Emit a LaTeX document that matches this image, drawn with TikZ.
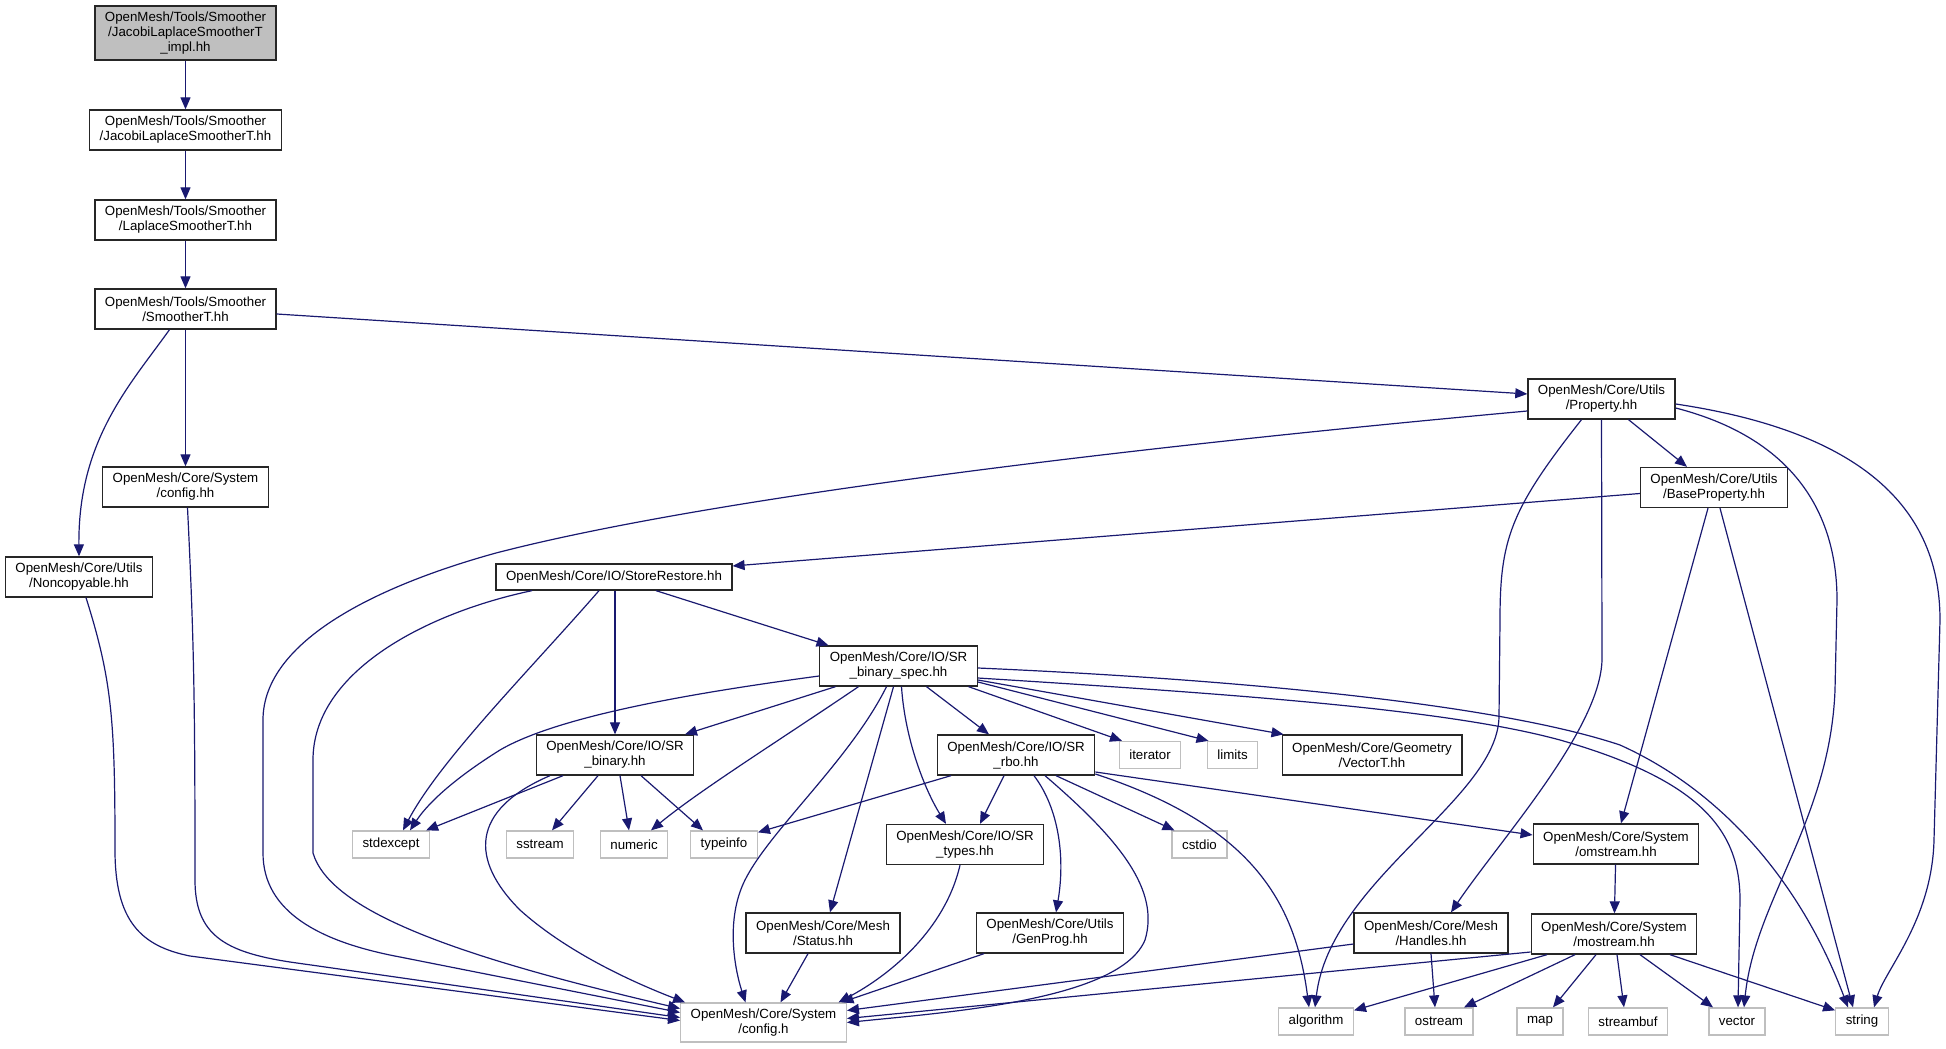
\documentclass[tikz,border=0pt]{standalone}
\usepackage{fontspec}
\setmainfont{Liberation Sans}
\usetikzlibrary{arrows.meta}
\definecolor{edgeblue}{HTML}{191970}
\definecolor{boxgray}{HTML}{BFBFBF}
\tikzset{%
  every header/.style={
    rectangle,
    draw=black!85,
    line width=1.3pt,
    align=center,
    inner xsep=10pt,
    inner ysep=0pt,
    minimum height=40pt,
    font=\fontsize{13.3}{15}\selectfont
  },
  header system/.style={
    every header,
    draw=boxgray,
    minimum height=27pt
  },
  header root/.style={
    every header,
    fill=boxgray,
    minimum height=54pt
  },
  include/.style={draw=edgeblue, line width=1.2pt, ->},
}

\begin{document}
\begin{tikzpicture}[> = {Triangle[length=12pt,width=10pt]}, x=1pt, y=-1pt]
\useasboundingbox (0,0) rectangle (1946,1049);

% project headers
\node[header root] (impl) at (185.5,33) {OpenMesh/Tools/Smoother\\/JacobiLaplaceSmootherT\\\_impl.hh};
\node[every header] (jacobi) at (185.5,130) {OpenMesh/Tools/Smoother\\/JacobiLaplaceSmootherT.hh};
\node[every header] (laplace) at (185.5,220) {OpenMesh/Tools/Smoother\\/LaplaceSmootherT.hh};
\node[every header] (smoother) at (185.5,309) {OpenMesh/Tools/Smoother\\/SmootherT.hh};
\node[every header] (confighh) at (185.5,487) {OpenMesh/Core/System\\/config.hh};
\node[every header] (noncopy) at (79,577) {OpenMesh/Core/Utils\\/Noncopyable.hh};
\node[every header] (property) at (1601.5,399) {OpenMesh/Core/Utils\\/Property.hh};
\node[every header] (baseprop) at (1714,487.5) {OpenMesh/Core/Utils\\/BaseProperty.hh};
\node[every header, minimum height=26pt] (storerest) at (614,577) {OpenMesh/Core/IO/StoreRestore.hh};
\node[every header] (spec) at (898.5,666) {OpenMesh/Core/IO/SR\\\_binary\_spec.hh};
\node[every header] (binary) at (615,755) {OpenMesh/Core/IO/SR\\\_binary.hh};
\node[every header] (rbo) at (1016,755) {OpenMesh/Core/IO/SR\\\_rbo.hh};
\node[every header] (vectort) at (1372,755) {OpenMesh/Core/Geometry\\/VectorT.hh};
\node[every header] (srtypes) at (965,844.5) {OpenMesh/Core/IO/SR\\\_types.hh};
\node[every header] (omstream) at (1616,844) {OpenMesh/Core/System\\/omstream.hh};
\node[every header] (status) at (823,933) {OpenMesh/Core/Mesh\\/Status.hh};
\node[every header] (genprog) at (1050,933) {OpenMesh/Core/Utils\\/GenProg.hh};
\node[every header] (handles) at (1431,933) {OpenMesh/Core/Mesh\\/Handles.hh};
\node[every header] (mostream) at (1614,934) {OpenMesh/Core/System\\/mostream.hh};
\node[header system, minimum height=39pt] (configh) at (763.5,1022.5) {OpenMesh/Core/System\\/config.h};

% system headers
\foreach \name/\x/\y in {iterator/1150/755, limits/1232.5/755, stdexcept/391/844.5,
  sstream/540/844.5, numeric/634/844.5, typeinfo/724/844.5, cstdio/1199.5/844.5,
  algorithm/1316/1021.5, ostream/1439/1021.5, map/1540/1021.5, streambuf/1628/1021.5,
  vector/1737/1021.5, string/1862/1021.5}
  \node[header system] (\name) at (\x,\y) {\name};

% smoother chain
\draw[include] (impl) -- (jacobi);
\draw[include] (jacobi) -- (laplace);
\draw[include] (laplace) -- (smoother);
\draw[include] ([yshift=-5pt]smoother.east) -- ([yshift=5pt]property.west);
\draw[include] (smoother) -- (confighh);
\draw[include] ([xshift=-16pt]smoother.south) .. controls (130,385) and (78,440) .. (noncopy.north);

% long ones into config.h from the left
\draw[include] ([xshift=2pt]confighh.south) .. controls (194,640) and (195,700) .. (195,880)
  .. controls (195,935) and (225,952) .. (290,962) -- ([yshift=5pt]configh.west);
\draw[include] ([xshift=7pt]noncopy.south) .. controls (112,680) and (115,720) .. (115,850)
  .. controls (115,920) and (140,946) .. (190,956) -- ([yshift=2pt]configh.west);
\draw[include] ([yshift=-12pt]property.west) .. controls (1100,450) and (700,500) .. (496,553)
  .. controls (380,585) and (263,640) .. (263,720) -- (263,853)
  .. controls (263,912) and (320,942) .. (400,957) -- ([yshift=10pt]configh.west);
\draw[include] ([xshift=-82pt]storerest.south) .. controls (430,612) and (313,670) .. (313,760) -- (313,853)
  .. controls (330,910) and (450,955) .. ([yshift=14pt]configh.west);

% StoreRestore.hh
\draw[include] ([xshift=-15pt]storerest.south) .. controls (530,670) and (440,760) .. ([xshift=12pt]stdexcept.north);
\draw[include] ([xshift=1pt]storerest.south) -- (binary.north);
\draw[include] ([xshift=42pt]storerest.south) -- ([xshift=-70pt]spec.north);
\draw[include] ([yshift=-6pt]baseprop.west) -- ([yshift=11pt]storerest.east);

% SR_binary.hh
\draw[include] ([xshift=-52pt]binary.south) -- ([xshift=-4pt]stdexcept.north east);
\draw[include] ([xshift=-17pt]binary.south) -- ([xshift=12pt]sstream.north);
\draw[include] ([xshift=5pt]binary.south) -- ([xshift=-5pt]numeric.north);
\draw[include] ([xshift=26pt]binary.south) -- ([xshift=-21pt]typeinfo.north);
\draw[include] ([xshift=-65pt]binary.south) .. controls (470,810) and (470,860) .. (520,910)
  .. controls (570,955) and (640,985) .. ([xshift=5pt]configh.north west);

% SR_binary_spec.hh
\draw[include] ([yshift=-10pt]spec.west) .. controls (700,692) and (560,715) .. (500,750)
  .. controls (460,775) and (430,800) .. ([xshift=19pt]stdexcept.north);
\draw[include] ([xshift=-63pt]spec.south) -- ([xshift=70pt]binary.north);
\draw[include] ([xshift=-40pt]spec.south) .. controls (780,740) and (700,790) .. ([xshift=17pt]numeric.north);
\draw[include] ([xshift=-12pt]spec.south) .. controls (850,760) and (770,830) .. (745,880)
  .. controls (725,920) and (735,970) .. ([xshift=-18pt]configh.north);
\draw[include] ([xshift=-5pt]spec.south) -- ([xshift=7pt]status.north);
\draw[include] ([xshift=3pt]spec.south) .. controls (905,740) and (925,790) .. ([xshift=-19pt]srtypes.north);
\draw[include] ([xshift=28pt]spec.south) -- ([xshift=-27pt]rbo.north);
\draw[include] ([xshift=70pt]spec.south) -- ([xshift=-28pt]iterator.north);
\draw[include] ([yshift=-16pt]spec.east) -- ([xshift=-24pt]limits.north);
\draw[include] ([yshift=-14pt]spec.east) -- ([xshift=2pt]vectort.north west);
\draw[include] ([yshift=-12pt]spec.east) .. controls (1250,695) and (1450,710) .. (1560,740)
  .. controls (1700,780) and (1740,830) .. (1740,900) -- ([xshift=1pt]vector.north);
\draw[include] ([yshift=-2pt]spec.east) .. controls (1250,680) and (1500,705) .. (1620,745)
  .. controls (1720,790) and (1800,880) .. ([xshift=-14pt]string.north);

% SR_rbo.hh
\draw[include] ([xshift=-65pt]rbo.south) -- ([yshift=-2pt]typeinfo.north east);
\draw[include] ([xshift=-12pt]rbo.south) -- ([xshift=15pt]srtypes.north);
\draw[include] ([xshift=18pt]rbo.south) .. controls (1060,810) and (1065,860) .. ([xshift=6pt]genprog.north);
\draw[include] ([xshift=29pt]rbo.south) .. controls (1120,840) and (1160,890) .. (1145,940)
  .. controls (1120,1000) and (950,1012) .. (configh.east);
\draw[include] ([xshift=40pt]rbo.south) -- ([xshift=3pt]cstdio.north west);
\draw[include] ([yshift=-19pt]rbo.east) .. controls (1250,825) and (1295,900) .. ([xshift=-7pt]algorithm.north);
\draw[include] ([yshift=-17pt]rbo.east) -- ([yshift=9pt]omstream.west);

% into config.h from below right
\draw[include] ([xshift=-5pt]srtypes.south) .. controls (945,930) and (890,975) .. ([xshift=75pt]configh.north);
\draw[include] ([xshift=-15pt]status.south) -- ([xshift=17pt]configh.north);
\draw[include] ([xshift=-66pt]genprog.south) -- ([xshift=78pt]configh.north);
\draw[include] ([yshift=-11pt]handles.west) -- ([yshift=12pt]configh.east);
\draw[include] ([yshift=-18pt]mostream.west) -- ([yshift=4pt]configh.east);

% Handles.hh, omstream.hh, mostream.hh
\draw[include] (handles.south) -- ([xshift=-4pt]ostream.north);
\draw[include] (omstream) -- (mostream);
\draw[include] ([xshift=-67pt]mostream.south) -- ([yshift=-3pt]algorithm.north east);
\draw[include] ([xshift=-39pt]mostream.south) -- ([xshift=25pt]ostream.north);
\draw[include] ([xshift=-18pt]mostream.south) -- ([xshift=13pt]map.north);
\draw[include] ([xshift=3pt]mostream.south) -- ([xshift=-4pt]streambuf.north);
\draw[include] ([xshift=26pt]mostream.south) -- ([xshift=-24pt]vector.north);
\draw[include] ([xshift=56pt]mostream.south) -- ([yshift=-3pt]string.north west);

% Property.hh, BaseProperty.hh
\draw[include] ([xshift=27pt]property.south) -- ([xshift=-27pt]baseprop.north);
\draw[include] ([xshift=-20pt]property.south) .. controls (1510,510) and (1500,540) .. (1500,620) -- (1499,717)
  .. controls (1497,800) and (1330,880) .. ([xshift=-1pt]algorithm.north);
\draw[include] (property.south) -- (1602,660) .. controls (1600,730) and (1500,840) .. ([xshift=20pt]handles.north);
\draw[include] ([yshift=-9pt]property.east) .. controls (1800,440) and (1837,520) .. (1837,600) -- (1835,690)
  .. controls (1830,820) and (1755,900) .. ([xshift=7pt]vector.north);
\draw[include] ([yshift=-5pt]property.east) .. controls (1850,430) and (1940,500) .. (1940,620) -- (1934,840)
  .. controls (1932,920) and (1885,970) .. ([xshift=12pt]string.north);
\draw[include] ([xshift=-6pt]baseprop.south) -- ([xshift=5pt]omstream.north);
\draw[include] ([xshift=6pt]baseprop.south) -- ([xshift=-9pt]string.north);
\end{tikzpicture}
\end{document}
